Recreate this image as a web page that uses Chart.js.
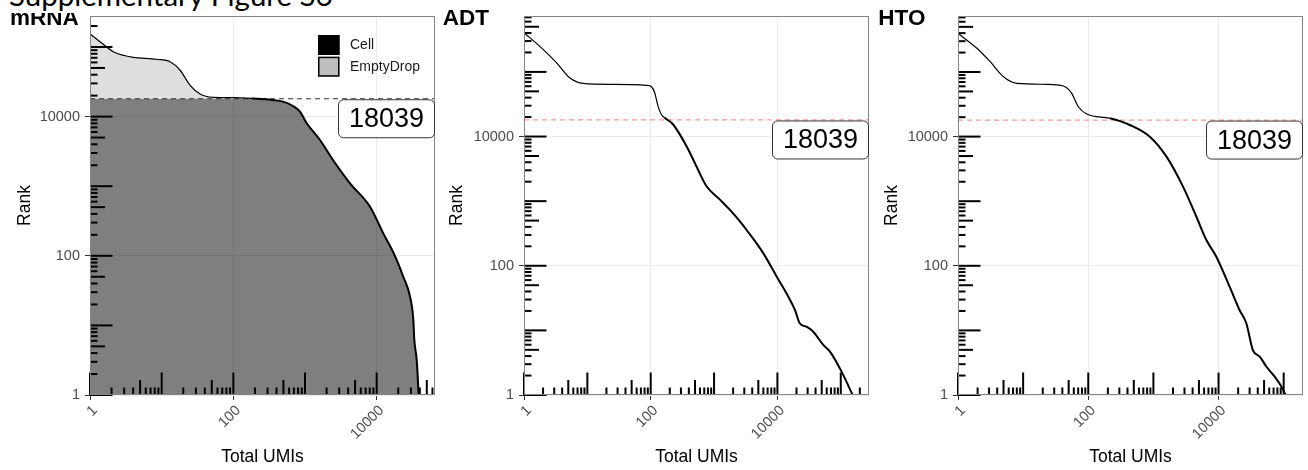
<!DOCTYPE html>
<html>
<head>
<meta charset="utf-8">
<title>Supplementary Figure S6</title>
<script src="https://cdn.jsdelivr.net/npm/chart.js@4.4.1/dist/chart.umd.min.js"></script>
<style>
  html, body { margin: 0; padding: 0; background: #ffffff; }
  #figure { position: relative; width: 1308px; height: 470px; overflow: hidden; background: #ffffff; }
  .panel { position: absolute; top: 0; height: 470px; }
  .panel canvas { display: block; }
  #caption { position: absolute; left: 0; top: 0; width: 360px; height: 13px; overflow: hidden; background: #ffffff; z-index: 2; }
  #caption span { position: absolute; left: 9px; top: -20px; font-family: Lato, "Open Sans", sans-serif; font-size: 29.5px; line-height: 29.5px; white-space: nowrap; color: #000; }
</style>
</head>
<body>
<div id="figure">
  <div class="panel" style="left:0px;width:437px"><canvas id="mrna" width="437" height="470"></canvas></div>
  <div class="panel" style="left:437px;width:434px"><canvas id="adt" width="434" height="470"></canvas></div>
  <div class="panel" style="left:871px;width:437px"><canvas id="hto" width="437" height="470"></canvas></div>
  <div id="caption"><span>Supplementary Figure S6</span></div>
</div>
<script>
// Rank that separates called cells from empty droplets
const cellThreshold = 18039;

// Breaks shown on both log10 axes
const umiTicks = [1, 100, 10000];
const rankTicks = [1, 100, 10000];

// mRNA: total UMIs per barcode against barcode rank
const mrnaUmis  = [1, 1.38, 2.11, 3.0, 4.02, 8.5, 13.1, 18.0, 24.8, 34.3, 52, 100, 180, 292, 493, 680, 851, 1057, 1618, 2457, 4245, 8070, 12370, 18030, 23500, 29170, 32460, 33500, 36160, 38560];
const mrnaRanks = [154000, 119000, 85600, 75500, 71100, 66600, 61500, 46700, 28400, 21100, 18900, 18700, 18300, 17700, 16400, 14200, 11770, 8010, 4610, 2380, 1100, 508, 210, 99, 50, 26, 12, 6.2, 3.2, 1];

// ADT: total UMIs per barcode against barcode rank
const adtUmis  = [1, 2.0, 3.25, 5.27, 8.55, 25.5, 86, 102.6, 115.6, 130.4, 147.5, 166, 226, 368, 526, 761, 1236, 1766, 2558, 3243, 5970, 9710, 14820, 18900, 22500, 28700, 36500, 52900, 67600, 103000, 154000];
const adtRanks = [405000, 223000, 139000, 81300, 66300, 64000, 61800, 58900, 47600, 29500, 21900, 19500, 15350, 7080, 3467, 1696, 1055, 738, 486, 361, 157, 68.3, 33.4, 20.8, 12.9, 11.4, 9.6, 5.96, 4.69, 2.30, 1];

// HTO: total UMIs per barcode against barcode rank
const htoUmis  = [1, 1.95, 3.12, 4.99, 8.0, 23.1, 41.4, 55.7, 70.3, 94.6, 215, 435, 881, 1588, 2850, 4570, 6500, 9250, 14790, 21000, 26700, 33600, 42950, 54400, 72800, 92200, 107000];
const htoRanks = [397000, 233000, 144500, 84600, 66800, 64500, 60700, 46800, 29000, 22400, 19200, 15130, 9960, 4890, 1678, 575, 251, 138, 47.5, 20.7, 12.9, 4.97, 3.92, 2.74, 1.92, 1.35, 1];

const FONT = '"Liberation Sans", Arial, Helvetica, sans-serif';

function toPoints(xs, ys) {
  return xs.map((v, i) => ({ x: v, y: ys[i] }));
}

// every 1..9 x 10^k value inside [min, max], used for the inner log tick marks
function logSteps(min, max) {
  const out = [];
  for (let e = Math.floor(Math.log10(min)); e <= Math.ceil(Math.log10(max)); e++) {
    for (let m = 1; m <= 9; m++) {
      const v = m * Math.pow(10, e);
      if (v >= min * 0.9999 && v <= max) out.push({ v, m });
    }
  }
  return out;
}

// panel decorations: inner log ticks, border, threshold label, legend and panel title
const panelDecor = {
  id: 'panelDecor',
  afterDatasetsDraw(chart, args, opts) {
    const { ctx, chartArea: a } = chart;
    const xs = chart.scales.x, ys = chart.scales.y;
    ctx.save();

    // log ticks along the left and bottom edges
    ctx.strokeStyle = '#000000';
    ctx.lineWidth = 2;
    const tickLen = m => (m === 1 ? 22.5 : (m === 5 ? 15 : 7.5));
    for (const t of logSteps(ys.min, ys.max)) {
      const py = ys.getPixelForValue(t.v);
      ctx.beginPath(); ctx.moveTo(a.left, py); ctx.lineTo(a.left + tickLen(t.m), py); ctx.stroke();
    }
    for (const t of logSteps(xs.min, xs.max)) {
      const px = xs.getPixelForValue(t.v);
      ctx.beginPath(); ctx.moveTo(px, a.bottom); ctx.lineTo(px, a.bottom - tickLen(t.m)); ctx.stroke();
    }

    // panel border
    ctx.strokeStyle = '#858585';
    ctx.lineWidth = 1;
    ctx.strokeRect(a.left + 0.5, a.top + 0.5, a.width - 1, a.height - 1);

    // threshold label, anchored to the right edge just under the threshold line
    const ty = ys.getPixelForValue(opts.threshold);
    const bw = 97, bh = 39, r = 5;
    const bx = a.right - bw, by = ty + 0.5;
    ctx.beginPath();
    ctx.roundRect(bx + 0.5, by + 0.5, bw - 1, bh - 1, r);
    ctx.fillStyle = '#ffffff';
    ctx.fill();
    ctx.strokeStyle = '#333333';
    ctx.lineWidth = 1;
    ctx.stroke();
    ctx.fillStyle = '#000000';
    ctx.font = '27px ' + FONT;
    ctx.textAlign = 'center';
    ctx.textBaseline = 'middle';
    ctx.fillText(String(opts.threshold), bx + bw / 2, by + bh / 2 + 1);

    // fill legend
    if (opts.legend) {
      const keys = chart.data.datasets.filter(d => d.keyColor);
      let ky = a.top + 19;
      const kx = a.right - 117;
      keys.forEach(d => {
        ctx.fillStyle = d.keyColor;
        ctx.fillRect(kx, ky, 21.5, 20);
        ctx.strokeStyle = '#000000';
        ctx.lineWidth = 1.5;
        ctx.strokeRect(kx + 0.75, ky + 0.75, 20, 18.5);
        ctx.fillStyle = '#1a1a1a';
        ctx.font = '14px ' + FONT;
        ctx.textAlign = 'left';
        ctx.textBaseline = 'middle';
        ctx.fillText(d.label, kx + 32, ky + 10.5);
        ky += 21.7;
      });
    }

    // panel title
    ctx.fillStyle = '#000000';
    ctx.font = 'bold 22.5px ' + FONT;
    ctx.textAlign = 'left';
    ctx.textBaseline = 'alphabetic';
    ctx.fillText(opts.title, opts.titleX, 25);
    ctx.restore();
  }
};

function makePanel(id, p) {
  const cfg = {
    type: 'line',
    data: { datasets: p.datasets },
    options: {
      responsive: false,
      animation: false,
      layout: { padding: { left: 0, top: 16, right: p.padRight, bottom: 0 } },
      elements: { point: { radius: 0, hoverRadius: 0 }, line: { cubicInterpolationMode: 'monotone' } },
      plugins: {
        legend: { display: false },
        tooltip: { enabled: false },
        panelDecor: { threshold: cellThreshold, title: p.title, titleX: p.titleX, legend: !!p.legend }
      },
      scales: {
        x: {
          type: 'logarithmic',
          min: 1,
          max: p.xMax,
          afterBuildTicks: s => { s.ticks = umiTicks.map(v => ({ value: v })); },
          afterFit: s => { s.height = 75; },
          ticks: {
            autoSkip: false, minRotation: 45, maxRotation: 45, labelOffset: 5,
            color: '#4d4d4d', font: { family: FONT, size: 14.5 }, padding: 2,
            callback: v => String(v)
          },
          grid: { color: '#ebebeb', lineWidth: 1, drawTicks: true, tickLength: 5, tickColor: '#333333', tickWidth: 1 },
          border: { display: false },
          title: { display: true, text: 'Total UMIs', color: '#000000', font: { family: FONT, size: 17.5 }, padding: { top: 0, bottom: 2.5 } }
        },
        y: {
          type: 'logarithmic',
          min: 1,
          max: p.yMax,
          afterBuildTicks: s => { s.ticks = rankTicks.map(v => ({ value: v })); },
          afterFit: s => { s.width = p.yAxisWidth; },
          ticks: {
            autoSkip: false,
            color: '#4d4d4d', font: { family: FONT, size: 14.5 }, padding: 5,
            callback: v => String(v)
          },
          grid: { color: '#ebebeb', lineWidth: 1, drawTicks: true, tickLength: 5, tickColor: '#333333', tickWidth: 1 },
          border: { display: false },
          title: { display: true, text: 'Rank', color: '#000000', font: { family: FONT, size: 17.5 }, padding: { top: p.rankPad, bottom: 0 } }
        }
      }
    },
    plugins: [panelDecor]
  };
  return new Chart(document.getElementById(id), cfg);
}

function thresholdLine(xMax, color) {
  return {
    label: 'threshold',
    data: [{ x: 1, y: cellThreshold }, { x: xMax, y: cellThreshold }],
    borderColor: color, borderWidth: 1.2, borderDash: [5, 4], fill: false, order: 2
  };
}

function rankCurve(xs, ys) {
  return {
    label: 'curve',
    data: toPoints(xs, ys),
    borderColor: '#000000', borderWidth: 2, fill: false, order: 1,
    segment: { borderWidth: c => (c.p0.parsed.y > cellThreshold && c.p1.parsed.y > cellThreshold ? 1.2 : 2) }
  };
}

// mRNA panel with cell / empty-droplet shading
const mrnaXMax = 65100;
makePanel('mrna', {
  title: 'mRNA', titleX: 10, legend: true,
  xMax: mrnaXMax, yMax: 278800, yAxisWidth: 90, padRight: 2, rankPad: 14.5,
  datasets: [
    {
      label: 'Cell', keyColor: '#000000',
      data: mrnaUmis.map((v, i) => ({ x: v, y: Math.min(mrnaRanks[i], cellThreshold) })),
      fill: 'start', backgroundColor: 'rgba(0,0,0,0.5)', borderColor: 'rgba(0,0,0,0)', borderWidth: 1, order: 5
    },
    {
      label: 'EmptyDrop', keyColor: '#bebebe',
      data: toPoints(mrnaUmis, mrnaRanks),
      fill: { target: { value: cellThreshold }, above: 'rgba(190,190,190,0.5)', below: 'rgba(0,0,0,0)' },
      borderColor: 'rgba(0,0,0,0)', borderWidth: 1, order: 4
    },
    thresholdLine(mrnaXMax, '#333333'),
    rankCurve(mrnaUmis, mrnaRanks)
  ]
});

// ADT panel
const adtXMax = 279000;
makePanel('adt', {
  title: 'ADT', titleX: 5.7,
  xMax: adtXMax, yMax: 733000, yAxisWidth: 87, padRight: 2, rankPad: 9.5,
  datasets: [thresholdLine(adtXMax, 'rgba(255,0,0,0.42)'), rankCurve(adtUmis, adtRanks)]
});

// HTO panel
const htoXMax = 198000;
makePanel('hto', {
  title: 'HTO', titleX: 7.3,
  xMax: htoXMax, yMax: 736000, yAxisWidth: 87, padRight: 5, rankPad: 11,
  datasets: [thresholdLine(htoXMax, 'rgba(255,0,0,0.42)'), rankCurve(htoUmis, htoRanks)]
});
</script>
</body>
</html>
